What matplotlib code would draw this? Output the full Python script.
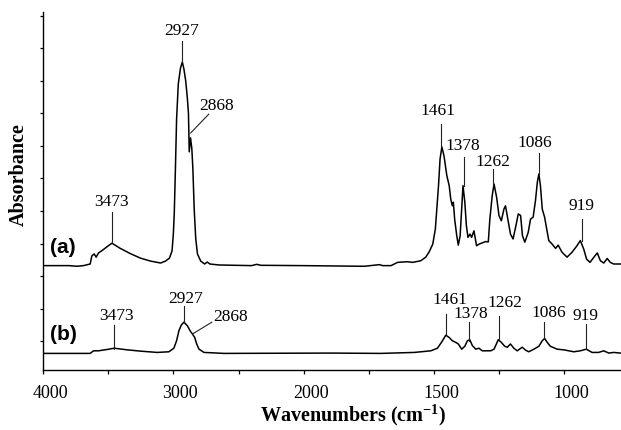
import numpy as np
import matplotlib
matplotlib.use('Agg')
import matplotlib.pyplot as plt
from matplotlib.transforms import ScaledTranslation

plt.rcParams['font.family'] = 'Liberation Serif'
plt.rcParams['mathtext.fontset'] = 'custom'
plt.rcParams['mathtext.rm'] = 'Liberation Serif:bold'
plt.rcParams['mathtext.bf'] = 'Liberation Serif:bold'

# spectrum (a)
wn_a = [4000, 3800, 3740, 3689, 3638, 3625, 3607, 3592, 3574, 3548, 3509, 3471,
        3407, 3330, 3252, 3175, 3098, 3060, 3030, 3010, 3000, 2993, 2985, 2975,
        2962, 2945, 2931, 2919, 2905, 2892, 2884, 2878, 2868, 2858, 2850, 2840,
        2828, 2815, 2790, 2760, 2740, 2720, 2650, 2400, 2360, 2330, 2010, 1767,
        1710, 1697, 1665, 1640, 1602, 1582, 1551, 1532, 1519, 1505, 1495, 1488,
        1483, 1477, 1470, 1462, 1451, 1442, 1436, 1430, 1426, 1421, 1413, 1407,
        1400, 1395, 1389, 1382, 1376, 1370, 1362, 1356, 1347, 1337, 1328, 1315,
        1302, 1292, 1286, 1277, 1270, 1260, 1251, 1242, 1232, 1226, 1217, 1207,
        1197, 1186, 1177, 1168, 1161, 1152, 1139, 1130, 1120, 1111, 1104, 1098,
        1092, 1085, 1076, 1068, 1060, 1047, 1034, 1024, 1009, 990, 971, 952,
        939, 926, 915, 902, 887, 874, 862, 849, 836, 824, 811, 786]
abs_a = [0.232, 0.232, 0.230, 0.232, 0.237, 0.262, 0.268, 0.258, 0.271, 0.278, 0.290, 0.301,
         0.285, 0.269, 0.255, 0.246, 0.240, 0.246, 0.255, 0.277, 0.329, 0.391, 0.514, 0.683,
         0.791, 0.840, 0.858, 0.837, 0.800, 0.745, 0.700, 0.582, 0.625, 0.591, 0.529, 0.406,
         0.314, 0.268, 0.246, 0.237, 0.243, 0.237, 0.234, 0.232, 0.236, 0.233, 0.232, 0.230,
         0.235, 0.232, 0.232, 0.242, 0.244, 0.242, 0.247, 0.258, 0.274, 0.298, 0.345, 0.422,
         0.477, 0.560, 0.597, 0.570, 0.509, 0.478, 0.437, 0.416, 0.427, 0.375, 0.324, 0.295,
         0.324, 0.396, 0.478, 0.427, 0.355, 0.319, 0.329, 0.319, 0.339, 0.293, 0.298, 0.302,
         0.306, 0.305, 0.375, 0.447, 0.483, 0.442, 0.386, 0.370, 0.406, 0.416, 0.375, 0.329,
         0.314, 0.355, 0.391, 0.386, 0.324, 0.304, 0.334, 0.375, 0.381, 0.432, 0.488, 0.514,
         0.478, 0.406, 0.381, 0.345, 0.309, 0.298, 0.285, 0.295, 0.273, 0.258, 0.273, 0.293,
         0.309, 0.283, 0.252, 0.242, 0.258, 0.271, 0.247, 0.240, 0.254, 0.242, 0.237, 0.237]

# spectrum (b)
wn_b = [4000, 3638, 3612, 3574, 3509, 3453, 3355, 3252, 3124, 3034, 2996, 2975,
        2957, 2939, 2919, 2892, 2872, 2854, 2836, 2821, 2803, 2765, 2610, 1895,
        1704, 1576, 1512, 1487, 1470, 1455, 1442, 1430, 1417, 1407, 1394, 1382,
        1372, 1363, 1353, 1340, 1328, 1315, 1283, 1270, 1261, 1254, 1242, 1229,
        1219, 1207, 1194, 1181, 1162, 1149, 1137, 1117, 1098, 1085, 1076, 1066,
        1054, 1028, 1003, 964, 939, 916, 894, 869, 849, 830, 811, 786]
abs_b = [-0.038, -0.038, -0.030, -0.030, -0.026, -0.022, -0.027, -0.031, -0.035, -0.033, -0.022, 0.001,
         0.032, 0.049, 0.058, 0.047, 0.032, 0.022, 0.011, -0.009, -0.025, -0.035, -0.038, -0.037,
         -0.038, -0.035, -0.030, -0.022, -0.002, 0.018, 0.011, 0.001, -0.004, -0.009, -0.025, -0.016,
         0.001, 0.004, -0.014, -0.025, -0.022, -0.030, -0.030, -0.025, -0.009, 0.004, -0.004, -0.016,
         -0.019, -0.009, -0.022, -0.030, -0.019, -0.028, -0.033, -0.025, -0.016, 0.001, 0.008, -0.004,
         -0.016, -0.025, -0.027, -0.033, -0.030, -0.025, -0.035, -0.035, -0.030, -0.037, -0.035, -0.037]

# peak labels: text, text x, text y, line start, line end
labels_a = [('3473', 3478, 0.431, (3471, 0.397), (3471, 0.302)),
            ('2927', 2936, 0.957, (2931, 0.923), (2931, 0.858)),
            ('2868', 2667, 0.726, (2728, 0.698), (2867, 0.640)),
            ('1461', 1486, 0.711, (1475, 0.668), (1475, 0.597)),
            ('1378', 1390, 0.602, (1387, 0.566), (1387, 0.477)),
            ('1262', 1275, 0.554, (1273, 0.529), (1273, 0.480)),
            ('1086', 1113, 0.612, (1099, 0.578), (1099, 0.514)),
            ('919', 935, 0.418, (932, 0.375), (932, 0.308))]
labels_b = [('3473', 3437, 0.080, (3453, 0.049), (3453, -0.025)),
            ('2927', 2906, 0.132, (2921, 0.108), (2921, 0.058)),
            ('2868', 2559, 0.077, (2705, 0.058), (2852, 0.022)),
            ('1461', 1440, 0.130, (1455, 0.083), (1455, 0.022)),
            ('1378', 1359, 0.085, (1367, 0.058), (1367, 0.000)),
            ('1262', 1229, 0.120, (1252, 0.077), (1252, 0.006)),
            ('1086', 1061, 0.089, (1080, 0.058), (1080, 0.009)),
            ('919', 919, 0.080, (916, 0.052), (916, -0.025))]


# x axis scale changes at 2000 cm-1 (twice as wide below)
def fwd(x):
    x = np.asarray(x, dtype=float)
    return np.where(x >= 2000, x, 2 * x - 2000)


def inv(y):
    y = np.asarray(y, dtype=float)
    return np.where(y >= 2000, y, (y + 2000) / 2)


fig = plt.figure(figsize=(6.21, 4.31), dpi=100)
ax = fig.add_axes([0.0692, 0.140, 0.9308, 0.8305])
ax.set_xscale('function', functions=(fwd, inv))

ax.plot(wn_a, abs_a, color='black', lw=1.1)
ax.plot(wn_b, abs_b, color='black', lw=1.1)

for txt, tx, ty, p1, p2 in labels_a + labels_b:
    ax.plot([p1[0], p2[0]], [p1[1], p2[1]], color='#222222', lw=0.8)
    ax.text(tx, ty, txt, ha='center', va='center', fontsize=12.5)

ax.text(3846, 0.292, '(a)', ha='center', va='center', fontsize=15,
        fontweight='bold', family='Liberation Sans')
ax.text(3842, 0.022, '(b)', ha='center', va='center', fontsize=15,
        fontweight='bold', family='Liberation Sans')

ax.set_xlim(4000, 783)
ax.set_ylim(-0.088, 1.013)
ax.set_xticks([4000, 3000, 2000, 1500, 1000])
ax.set_xticklabels(['4000', '3000', '2000', '1500', '1000'], fontsize=13)
ax.set_xticks([3500, 2500, 1750, 1250], minor=True)
ax.set_yticks(np.arange(0, 1.01, 0.1))
ax.set_yticklabels([])
ax.tick_params(axis='x', which='both', direction='out', length=3, width=0.9, pad=7)
ax.tick_params(axis='y', direction='out', length=2.5, width=0.9)
for lab in ax.get_xticklabels():
    lab.set_transform(lab.get_transform() + ScaledTranslation(0.07, 0, fig.dpi_scale_trans))

for s in ['top', 'right']:
    ax.spines[s].set_visible(False)
for s in ['left', 'bottom']:
    ax.spines[s].set_linewidth(1.0)

fig.text(0.0298, 0.596, 'Absorbance', rotation=90, ha='center', va='center',
         fontsize=14.5, fontweight='bold')
fig.text(0.568, 0.036, 'Wavenumbers (cm$^{-1}$)', ha='center', va='center',
         fontsize=14.5, fontweight='bold')

fig.savefig('out.png', dpi=100)
